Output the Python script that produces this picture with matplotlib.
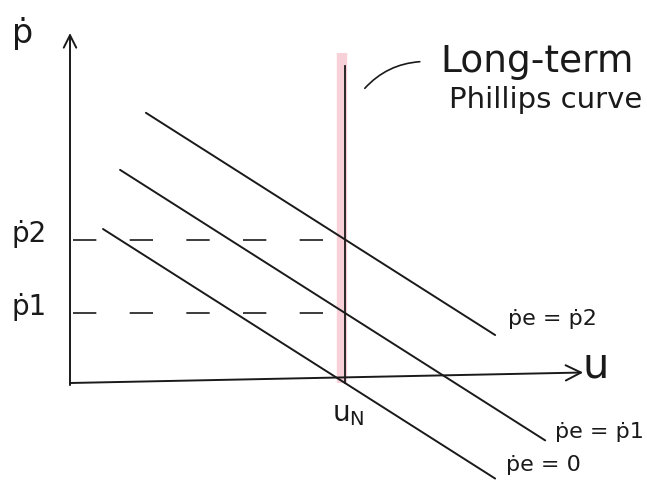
import matplotlib
matplotlib.use("Agg")
import matplotlib.pyplot as plt
import numpy as np

# Expectations-augmented Phillips curves: p = pe - slope * (u - u_N)
u_natural = 5.0
slope = 0.5
expected_inflation = [0.0, 1.0, 2.05]          # pe = 0, pe = p1, pe = p2
curve_u_start = [0.6, 0.91, 1.38]
curve_u_end = [7.73, 8.64, 7.73]
curve_labels = ["ṗe = 0", "ṗe = ṗ1", "ṗe = ṗ2"]

# Inflation levels marked on the vertical axis
inflation_levels = [1.0, 2.05]
inflation_labels = ["ṗ1", "ṗ2"]

lrpc_top = 4.61
axis_u_max = 9.33
axis_p_max = 5.0

fig = plt.figure(figsize=(6.47, 4.8), dpi=100)
ax = fig.add_axes([0, 0, 1, 1])
ax.set_xlim(-70 / 55, 577 / 55)
ax.set_ylim(-97 / 70, 383 / 70)
ax.axis("off")

ink = "#1a1a1a"
lw = 1.4

# Long-run Phillips curve (highlighted vertical at u_N)
ax.plot([u_natural - 0.05, u_natural - 0.05], [0, lrpc_top + 0.1],
        color="#f8d0d8", lw=7.5, solid_capstyle="butt", zorder=1)
ax.plot([u_natural, u_natural], [0, lrpc_top - 0.08], color=ink, lw=1.3, zorder=3)

# Short-run curves
for pe, u0, u1 in zip(expected_inflation, curve_u_start, curve_u_end):
    uu = np.array([u0, u1])
    pp = pe - slope * (uu - u_natural)
    ax.plot(uu, pp, color=ink, lw=lw, solid_capstyle="round", zorder=2)

# Dashed guides from the axis to the long-run curve
for level in inflation_levels:
    ln, = ax.plot([0.05, u_natural], [level, level], color=ink, lw=1.2, zorder=2)
    ln.set_dashes([14, 20])

# Axes arrows
ax.annotate("", xy=(0, axis_p_max), xytext=(0, -0.03),
            arrowprops=dict(arrowstyle="->,head_length=0.9,head_width=0.45",
                            color=ink, lw=lw, shrinkA=0, shrinkB=0))
ax.annotate("", xy=(axis_u_max, 0.15), xytext=(0, 0),
            arrowprops=dict(arrowstyle="->,head_length=1.1,head_width=0.55",
                            color=ink, lw=lw, shrinkA=0, shrinkB=0))

txt = dict(color=ink, ha="center", va="center")
ax.text(-0.87, 5.0, "ṗ", fontsize=24, **txt)
for level, lab in zip(inflation_levels, inflation_labels):
    ax.text(-0.75, level + 0.08, lab, fontsize=20, **txt)

ax.text(9.55, 0.25, "u", fontsize=30, **txt)
ax.text(5.05, -0.45, r"$\mathregular{u_N}$", fontsize=20, **txt)

label_pos = [(8.6, -1.17), (9.62, -0.7), (8.78, 0.92)]
for (x, y), lab in zip(label_pos, curve_labels):
    ax.text(x, y, lab, fontsize=16, **txt)

ax.text(8.5, 4.58, "Long-term", fontsize=27, **txt)
ax.text(8.64, 4.05, "Phillips curve", fontsize=21, **txt)
ax.annotate("", xy=(5.36, 4.21), xytext=(6.36, 4.59),
            arrowprops=dict(arrowstyle="-", color=ink, lw=1.2,
                            connectionstyle="arc3,rad=0.2", shrinkA=0, shrinkB=0))

fig.savefig("out.png", dpi=100, facecolor="white")
